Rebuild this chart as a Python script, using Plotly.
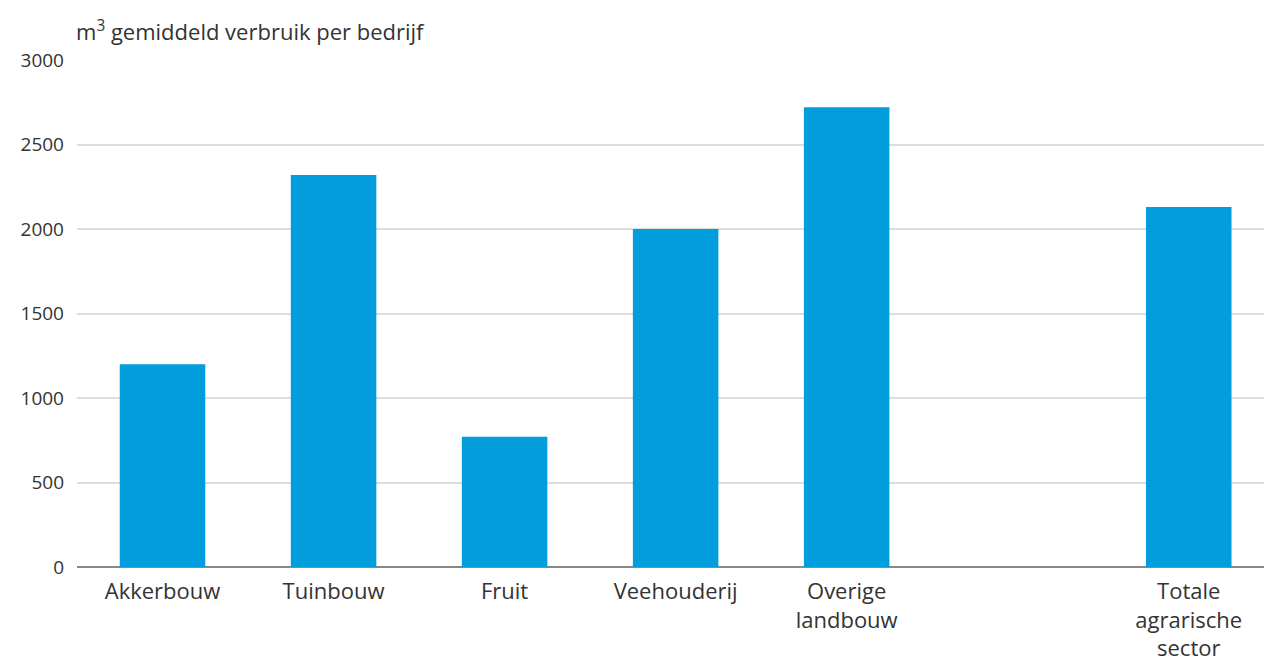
import plotly.graph_objects as go

categories = ["Akkerbouw", "Tuinbouw", "Fruit", "Veehouderij", "Overige<br>landbouw", " ", "Totale<br>agrarische<br>sector"]
values = [1200, 2320, 770, 2000, 2720, None, 2130]
y_ticks = [0, 500, 1000, 1500, 2000, 2500, 3000]
title_text = "m<sup>3</sup> gemiddeld verbruik per bedrijf"

labelled = [c for c in categories if c.strip()]

fig = go.Figure(go.Bar(x=categories, y=values, marker=dict(color="#019ddd", line=dict(width=0)),
                       hoverinfo="x+y"))

fig.update_layout(
    width=1264, height=666,
    margin=dict(l=77, r=0, t=60, b=99),
    paper_bgcolor="white", plot_bgcolor="white",
    bargap=0.5,
    showlegend=False,
    font=dict(family="Open Sans, Lato, sans-serif", color="#333333", size=18),
    annotations=[dict(text=title_text, xref="paper", yref="paper", x=0, y=1, xanchor="left",
                      yanchor="bottom", yshift=12, xshift=-3, showarrow=False,
                      font=dict(size=22, color="#333333"))],
)
fig.update_xaxes(type="category", range=[-0.5, 6.44], showgrid=False, showline=False,
                 zeroline=False, ticks="", tickvals=labelled, ticktext=labelled,
                 ticklabelstandoff=9,
                 tickfont=dict(size=22, color="#333333"))
fig.update_yaxes(range=[0, 3000], tickvals=y_ticks, showgrid=True, gridcolor="#dddddd",
                 gridwidth=2, zeroline=True, zerolinecolor="#888888", zerolinewidth=2,
                 showline=False, ticks="", ticklabelstandoff=12,
                 tickfont=dict(size=19, color="#333333"))

fig.write_html("out.html")
